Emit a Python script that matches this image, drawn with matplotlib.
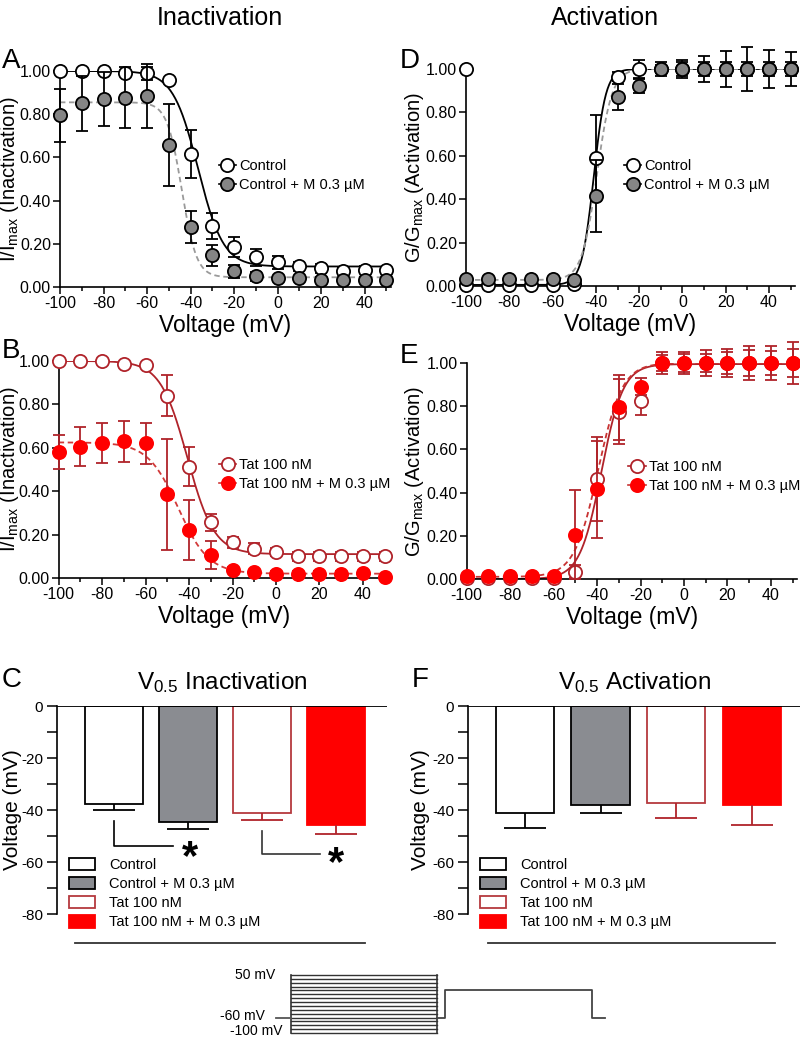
import numpy as np
import matplotlib
matplotlib.use('Agg')
import matplotlib.pyplot as plt
from matplotlib.lines import Line2D
from matplotlib.patches import Patch
from matplotlib.ticker import MultipleLocator, FormatStrFormatter

plt.rcParams['font.family'] = ['Liberation Sans', 'DejaVu Sans']
plt.rcParams['mathtext.fontset'] = 'custom'
plt.rcParams['mathtext.rm'] = 'Liberation Sans'
plt.rcParams['mathtext.default'] = 'regular'
plt.rcParams['axes.unicode_minus'] = False

# test voltages (mV)
volts = [-100, -90, -80, -70, -60, -50, -40, -30, -20, -10, 0, 10, 20, 30, 40, 50]

# A - inactivation, control
a_ctrl = [1.00, 1.00, 1.00, 0.99, 0.99, 0.96, 0.615, 0.283, 0.185, 0.138, 0.115, 0.095, 0.086, 0.074, 0.080, 0.077]
a_ctrl_err = [0.005, 0.005, 0.005, 0.01, 0.03, 0.005, 0.11, 0.06, 0.047, 0.04, 0.03, 0.02, 0.02, 0.015, 0.015, 0.01]
a_ctrlm = [0.795, 0.85, 0.87, 0.877, 0.885, 0.657, 0.277, 0.146, 0.072, 0.05, 0.042, 0.042, 0.034, 0.031, 0.034, 0.031]
a_ctrlm_err = [0.123, 0.127, 0.125, 0.14, 0.147, 0.188, 0.075, 0.05, 0.03, 0.02, 0.01, 0.01, 0.01, 0.01, 0.01, 0.01]
# Boltzmann fits: top, bottom, V0.5, slope
a_ctrl_fit = [1.0, 0.095, -36.5, 5.8]
a_ctrlm_fit = [0.855, 0.045, -44.0, 3.4]

# B - inactivation, Tat
b_tat = [1.00, 1.00, 1.00, 0.988, 0.98, 0.84, 0.513, 0.256, 0.164, 0.135, 0.12, 0.10, 0.10, 0.10, 0.10, 0.10]
b_tat_err = [0.005, 0.005, 0.005, 0.005, 0.005, 0.095, 0.09, 0.04, 0.025, 0.025, 0.02, 0.02, 0.02, 0.02, 0.02, 0.02]
b_tatm = [0.58, 0.605, 0.623, 0.63, 0.62, 0.386, 0.222, 0.106, 0.038, 0.028, 0.02, 0.02, 0.02, 0.02, 0.023, 0.005]
b_tatm_err = [0.077, 0.089, 0.093, 0.094, 0.095, 0.255, 0.137, 0.063, 0.012, 0.01, 0.01, 0.01, 0.01, 0.01, 0.01, 0.005]
b_tat_fit = [1.0, 0.11, -40.8, 6.2]
b_tatm_fit = [0.625, 0.02, -45.0, 7.0]

# D - activation, control
d_ctrl = [0.005, 0.005, 0.005, 0.005, 0.005, 0.01, 0.59, 0.965, 1.00, 1.00, 1.00, 1.00, 1.00, 1.00, 1.00, 1.00]
d_ctrl_err = [0.005, 0.005, 0.005, 0.005, 0.005, 0.005, 0.2, 0.02, 0.04, 0.02, 0.03, 0.03, 0.03, 0.03, 0.03, 0.03]
d_ctrlm = [0.03, 0.03, 0.03, 0.03, 0.03, 0.028, 0.416, 0.873, 0.923, 1.00, 1.00, 1.00, 1.00, 1.00, 1.00, 1.00]
d_ctrlm_err = [0.005, 0.005, 0.005, 0.005, 0.005, 0.005, 0.166, 0.06, 0.033, 0.03, 0.04, 0.06, 0.085, 0.10, 0.087, 0.08]
d_extra_v = [-100]
d_extra_g = [1.00]
# bottom, top, V0.5, slope
d_ctrl_fit = [0.005, 1.0, -41.0, 2.8]
d_ctrlm_fit = [0.028, 1.0, -39.5, 3.5]

# E - activation, Tat
e_tat = [0.005, 0.005, 0.005, 0.005, 0.005, 0.034, 0.462, 0.775, 0.822, 1.00, 1.00, 1.00, 1.00, 1.00, 1.00, 1.00]
e_tat_err = [0.005, 0.005, 0.005, 0.005, 0.005, 0.03, 0.195, 0.15, 0.065, 0.035, 0.04, 0.04, 0.05, 0.06, 0.055, 0.065]
e_tatm = [0.012, 0.012, 0.012, 0.012, 0.012, 0.205, 0.415, 0.795, 0.89, 1.00, 1.00, 1.00, 1.00, 1.00, 1.00, 1.00]
e_tatm_err = [0.01, 0.01, 0.01, 0.01, 0.01, 0.205, 0.225, 0.15, 0.04, 0.05, 0.05, 0.06, 0.065, 0.08, 0.08, 0.095]
e_tat_fit = [0.0, 0.995, -38.0, 5.0]
e_tatm_fit = [0.01, 1.0, -39.5, 5.5]

# C / F - V0.5 bars
groups = ['Control', 'Control + M 0.3 µM', 'Tat 100 nM', 'Tat 100 nM + M 0.3 µM']
v05_inact = [-37.7, -44.6, -41.2, -45.8]
v05_inact_err = [2.3, 2.7, 2.6, 3.4]
v05_act = [-41.2, -38.1, -37.3, -38.1]
v05_act_err = [5.8, 3.1, 5.8, 7.7]

# voltage protocol
steps = [-100, -90, -80, -70, -60, -50, -40, -30, -20, -10, 0, 10, 20, 30, 40, 50]
hold_mv = -60
test_mv = 10
prot_t = [0, 15, 161, 169, 316, 329]  # ms-ish timeline

DARKRED = '#b0232a'
RED = '#ff0000'
GRAYM = '#858585'
GRAYBAR = '#8a8c91'


def inact(v, top, bottom, vh, k):
    return bottom + (top - bottom) / (1 + np.exp((v - vh) / k))


def act(v, bottom, top, vh, k):
    return bottom + (top - bottom) / (1 + np.exp((vh - v) / k))


W, H = 800, 1037
fig = plt.figure(figsize=(8, 10.37), dpi=100)


def px_axes(left, top, right, bottom):
    return fig.add_axes([left / W, 1 - bottom / H, (right - left) / W, (bottom - top) / H])


def label_x(ax, px_right):
    # y label's right edge at a given figure pixel
    l = ax.get_position().x0 * W
    w = ax.get_position().width * W
    ax.yaxis.set_label_coords((px_right - l) / w, 0.5)


def curve_panel(ax, y1, e1, y2, e2, fit1, fit2, func, edge, fill, lcol, dcol, ecol, labels, ylabel, leg):
    vv = np.linspace(-100, 50, 400)
    ax.plot(vv, func(vv, *fit1), color=lcol, lw=1.3, zorder=2)
    ax.plot(vv, func(vv, *fit2), color=dcol, lw=1.3, ls=(0, (3, 2)), zorder=2)
    for y, e, z in [(y1, e1, 3), (y2, e2, 5)]:
        eb = ax.errorbar(volts, y, yerr=e, fmt='none', ecolor=ecol, elinewidth=1.3,
                         capsize=4.5, capthick=1.3, zorder=z)
        for c in eb.get_children():
            c.set_clip_on(False)
    ax.plot(volts, y1, 'o', mfc='white', mec=edge, ms=9.5, mew=1.3, zorder=4, clip_on=False)
    ax.plot(volts, y2, 'o', mfc=fill, mec=edge if fill == GRAYM else fill, ms=9.5, mew=1.3,
            zorder=6, clip_on=False)
    ax.set_xlim(-100, 52)
    ax.set_ylim(0, 1.0)
    ax.xaxis.set_major_locator(MultipleLocator(20))
    ax.xaxis.set_minor_locator(MultipleLocator(10))
    ax.yaxis.set_major_locator(MultipleLocator(0.2))
    ax.yaxis.set_major_formatter(FormatStrFormatter('%.2f'))
    for s in ['top', 'right']:
        ax.spines[s].set_visible(False)
    for s in ['left', 'bottom']:
        ax.spines[s].set_linewidth(1.2)
    ax.tick_params(which='major', direction='out', length=5, width=1.1, labelsize=11.5, pad=1.5)
    ax.tick_params(which='minor', direction='out', length=3, width=1.1)
    ax.set_xlabel('Voltage (mV)', fontsize=16.5, labelpad=2)
    ax.set_ylabel(ylabel, fontsize=14.5)
    h1 = Line2D([], [], color=lcol, lw=1.2, marker='o', mfc='white', mec=edge, ms=9.5, mew=1.3)
    h2 = Line2D([], [], color=dcol if fill != GRAYM else lcol, lw=1.2, marker='o', mfc=fill,
                mec=edge if fill == GRAYM else fill, ms=9.5, mew=1.3)
    ax.legend([h1, h2], labels, loc='upper left', bbox_to_anchor=leg, frameon=False,
              fontsize=10.5, handlelength=1.2, handletextpad=0.2, borderaxespad=0,
              borderpad=0, labelspacing=0.35)


axA = px_axes(60, 71, 390.6, 287)
curve_panel(axA, a_ctrl, a_ctrl_err, a_ctrlm, a_ctrlm_err, a_ctrl_fit, a_ctrlm_fit, inact,
            'black', GRAYM, 'black', '#9a9a9a', 'black', groups[:2],
            r'I/I$_{max}$ (Inactivation)', (0.48, 0.593))
label_x(axA, 21)

axB = px_axes(58.7, 361, 389, 578)
curve_panel(axB, b_tat, b_tat_err, b_tatm, b_tatm_err, b_tat_fit, b_tatm_fit, inact,
            DARKRED, RED, DARKRED, '#d23a3a', DARKRED, groups[2:],
            r'I/I$_{max}$ (Inactivation)', (0.485, 0.553))
label_x(axB, 21)

axD = px_axes(466, 69, 795, 286)
curve_panel(axD, d_ctrl, d_ctrl_err, d_ctrlm, d_ctrlm_err, d_ctrl_fit, d_ctrlm_fit, act,
            'black', GRAYM, 'black', '#9a9a9a', 'black', groups[:2],
            r'G/G$_{max}$ (Activation)', (0.48, 0.585))
axD.plot(d_extra_v, d_extra_g, 'o', mfc='white', mec='black', ms=9.5, mew=1.3, zorder=4, clip_on=False)
label_x(axD, 426)

axE = px_axes(466.7, 363, 797, 579)
curve_panel(axE, e_tat, e_tat_err, e_tatm, e_tatm_err, e_tat_fit, e_tatm_fit, act,
            DARKRED, RED, DARKRED, '#c83232', DARKRED, groups[2:],
            r'G/G$_{max}$ (Activation)', (0.489, 0.551))
label_x(axE, 426)


def bar_panel(ax, vals, errs, width, xlim, title, line_x):
    fills = ['white', GRAYBAR, 'white', RED]
    edges = ['black', 'black', '#b5393e', RED]
    ecols = ['black', 'black', DARKRED, DARKRED]
    pos = np.arange(1, len(vals) + 1)
    ax.bar(pos, vals, width=width, color=fills, edgecolor=edges, lw=1.3, zorder=2)
    for p, v, e, c in zip(pos, vals, errs, ecols):
        eb = ax.errorbar([p], [v], yerr=[[e], [0]], fmt='none', ecolor=c, elinewidth=1.3,
                         capsize=15, capthick=1.3, zorder=3)
        for cl in eb.lines[1]:
            if np.allclose(cl.get_ydata(), v):
                cl.set_visible(False)
    ax.axhline(0, color='black', lw=1.3, zorder=4)
    ax.set_xlim(*xlim)
    ax.set_ylim(-80, 0)
    ax.set_xticks([])
    ax.yaxis.set_major_locator(MultipleLocator(20))
    ax.yaxis.set_minor_locator(MultipleLocator(10))
    ax.yaxis.set_major_formatter(FormatStrFormatter('%d'))
    for s in ['top', 'right', 'bottom']:
        ax.spines[s].set_visible(False)
    ax.spines['left'].set_linewidth(1.2)
    ax.tick_params(which='major', direction='out', length=7, width=1.1, labelsize=11, pad=3)
    ax.tick_params(which='minor', direction='out', length=7, width=1.1)
    ax.set_ylabel('Voltage (mV)', fontsize=15)
    ax.set_title(title, fontsize=17.5, pad=12)
    ax.plot(line_x, [-0.139, -0.139], transform=ax.transAxes, color='#333333', lw=1.3, clip_on=False)
    handles = [Patch(facecolor=f, edgecolor=e, lw=1.3) for f, e in zip(fills, edges)]
    ax.legend(handles, groups, loc='upper left', bbox_to_anchor=(0.035, 0.27), frameon=False,
              fontsize=10.5, handlelength=1.8, handleheight=0.9, handletextpad=1.0,
              borderaxespad=0, borderpad=0, labelspacing=0.35)


axC = px_axes(57, 706, 387, 914)
bar_panel(axC, v05_inact, v05_inact_err, 0.784, (0.23, 4.69),
          r'V$_{0.5}$ Inactivation', [0.055, 0.933])
label_x(axC, 22)
# significance brackets
axC.plot([1, 1, 1.8], [-44.2, -53.8, -53.8], color='black', lw=1.2)
axC.plot([3, 3, 3.78], [-48.1, -56.9, -56.9], color='#333333', lw=1.2)
for xs, ys in [(2.03, -54.0), (4.0, -56.5)]:
    axC.annotate('*', xy=(xs, ys), xytext=(0, -16), textcoords='offset points',
                 ha='center', va='baseline', fontsize=30, fontweight='bold')

axF = px_axes(468, 706, 800, 914)
bar_panel(axF, v05_act, v05_act_err, 0.77, (0.245, 4.64),
          r'V$_{0.5}$ Activation', [0.06, 0.925])
label_x(axF, 430)

# voltage protocol
axP = px_axes(276, 975, 605, 1033)
axP.set_xlim(0, prot_t[-1])
axP.set_ylim(-100, 50)
axP.axis('off')
for s in steps:
    axP.plot([prot_t[1], prot_t[2]], [s, s], color='#333333', lw=1.0, clip_on=False)
axP.plot([prot_t[1], prot_t[1]], [steps[0], steps[-1]], color='#333333', lw=1.2, clip_on=False)
axP.plot([prot_t[2], prot_t[2]], [steps[0], steps[-1]], color='#333333', lw=1.2, clip_on=False)
axP.plot([prot_t[0], prot_t[1]], [hold_mv, hold_mv], color='#555555', lw=1.3, clip_on=False)
axP.plot([prot_t[2], prot_t[3], prot_t[3], prot_t[4], prot_t[4], prot_t[5]],
         [hold_mv, hold_mv, test_mv, test_mv, hold_mv, hold_mv], color='#444444', lw=1.3, clip_on=False)
axP.text(-1, 50, '50 mV', ha='right', va='center', fontsize=10)
axP.text(-11, -56, '-60 mV', ha='right', va='center', fontsize=10)
axP.text(7, -94, '-100 mV', ha='right', va='center', fontsize=10)

# column titles and panel letters
fig.text(220 / W, 1 - 18 / H, 'Inactivation', ha='center', va='center', fontsize=18)
fig.text(605 / W, 1 - 18 / H, 'Activation', ha='center', va='center', fontsize=18)
for letter, x, y in [('A', 2, 68), ('B', 2, 358), ('C', 2, 687),
                     ('D', 400, 68), ('E', 400, 363), ('F', 412, 687)]:
    fig.text(x / W, 1 - y / H, letter, ha='left', va='baseline', fontsize=20)

fig.savefig('out.png', dpi=100)
